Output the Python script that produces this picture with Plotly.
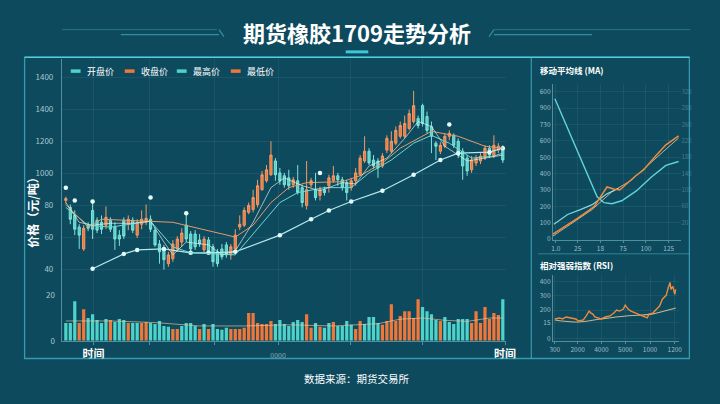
import plotly.graph_objects as go

# ---------------- data ----------------
opens = [83.1,78.8,73.8,66.5,52.9,67.7,76.9,70.8,69.5,67.7,70.8,66.5,61.5,70.8,68.3,70.8,61.5,68.3,69.5,71.4,
         64.6,56.0,52.9,43.7,46.8,52.9,57.2,67.7,62.2,62.2,58.5,52.3,58.5,54.2,51.1,52.9,55.4,49.2,52.9,66.5,
         67.7,75.7,77.5,80.6,89.8,95.4,99.1,107.7,100.3,98.5,97.2,92.9,95.4,91.1,80.0,92.9,89.8,86.2,89.8,92.3,
         95.4,98.5,96.0,94.2,91.1,95.4,99.1,107.7,113.8,108.3,107.7,104.6,114.5,113.8,118.8,123.1,123.1,128.0,132.3,134.2,
         142.2,135.4,129.2,118.8,113.8,116.9,123.1,123.7,120.0,113.8,109.5,102.2,106.5,107.7,109.5,115.7,110.8,114.5,115.7]
highs = [85.5,80.6,76.9,68.3,67.7,69.5,83.1,72.6,73.8,79.4,72.6,69.5,64.6,72.6,73.8,72.6,71.4,76.9,80.6,73.8,
         66.5,58.5,55.4,51.1,58.5,60.9,65.8,75.1,64.0,64.6,62.2,60.9,60.3,56.0,52.9,56.0,57.2,56.0,65.2,73.8,
         78.8,81.8,89.8,96.0,101.5,105.2,120.0,109.5,103.4,100.3,102.2,97.8,105.2,92.9,107.7,97.2,100.3,91.7,91.7,99.1,
         104.6,100.3,97.8,96.0,97.2,103.4,111.4,123.1,115.7,111.4,109.5,112.6,123.7,126.2,129.2,132.3,136.0,139.7,151.4,136.0,
         143.4,138.5,132.3,120.0,119.4,124.9,126.8,124.9,121.8,115.7,111.4,110.8,111.4,112.6,117.5,117.5,123.7,118.8,117.5]
lows = [81.2,68.3,61.5,52.9,51.7,64.0,59.1,62.8,62.2,65.2,63.4,52.3,54.8,59.1,64.6,62.8,59.7,65.2,67.7,63.4,
        54.2,43.7,40.0,41.8,44.9,51.1,54.2,57.2,51.1,52.3,54.2,50.5,49.8,41.8,41.8,46.2,47.4,46.2,51.1,64.6,
        66.5,74.5,75.7,78.8,89.2,94.2,98.5,95.4,92.9,91.1,89.8,91.1,86.8,78.8,77.5,91.1,83.1,83.1,86.2,88.0,
        94.2,92.3,89.2,83.1,89.2,92.3,98.5,106.5,105.2,102.8,97.2,103.4,112.6,112.6,117.5,121.8,121.8,126.8,131.1,128.0,
        129.2,124.9,112.6,108.3,112.0,115.7,120.6,115.7,109.5,96.0,98.5,100.3,104.6,105.8,108.3,109.5,109.5,112.6,106.5]
closes = [84.3,71.4,65.2,61.5,65.8,65.8,65.2,64.6,65.2,72.6,65.2,59.1,59.1,60.9,71.4,64.6,69.5,71.4,72.0,65.2,
          55.4,51.1,46.2,49.2,56.0,59.1,62.8,59.1,52.9,54.2,56.0,59.1,51.1,44.9,43.7,48.0,49.2,54.2,61.5,68.3,
          76.9,80.0,84.9,92.3,99.1,102.2,111.4,99.1,95.4,92.9,92.3,96.0,88.0,81.8,89.8,95.4,84.9,89.8,88.0,97.2,
          98.5,96.0,91.1,88.0,95.4,100.3,109.5,113.8,106.5,104.6,103.4,110.8,121.8,120.0,126.8,129.8,131.1,137.2,142.2,129.8,
          131.1,126.8,123.1,116.9,117.5,123.1,124.9,117.5,111.4,104.6,101.5,108.3,109.5,110.8,115.7,111.4,117.5,116.9,108.3]
days = list(range(len(closes)))

volumes = [7.8,7.8,17.4,7.8,13.9,10.0,11.7,9.1,7.8,9.6,
           9.1,8.3,9.6,9.1,7.8,7.8,7.8,7.8,8.3,7.8,
           7.4,8.7,6.5,6.1,5.2,5.2,6.5,7.8,7.8,6.5,
           5.2,7.4,5.2,7.4,5.2,4.8,5.7,5.2,5.2,5.2,
           5.7,12.2,12.2,7.8,7.4,7.4,8.7,7.4,9.1,7.4,
           6.5,8.3,9.1,8.3,11.7,5.7,7.8,6.1,5.7,7.8,
           8.3,6.5,6.5,8.7,7.0,5.2,8.7,7.4,10.4,10.4,
           7.8,7.0,8.7,16.1,8.7,10.9,13.0,13.0,10.0,18.3,
           14.8,13.0,11.7,9.1,8.7,10.4,8.3,7.4,9.6,9.6,
           9.6,7.8,13.0,7.8,14.8,9.6,12.2,11.3,18.3]
vol_dir = ["d","d","d","u","u","d","d","d","d","d",
           "u","d","d","d","u","d","d","u","u","d",
           "d","d","d","d","u","u","d","d","d","d",
           "u","d","u","d","d","d","d","u","u","u",
           "u","u","u","u","u","u","u","d","d","d",
           "d","d","d","d","u","u","d","u","d","d",
           "u","d","d","d","d","u","u","d","d","d",
           "d","u","u","u","u","u","u","u","u","u",
           "d","d","d","d","u","d","d","d","d","d",
           "d","u","u","u","u","u","u","u","d"]
vol_ma_x = [0,10,20,30,40,50,60,70,75,80,85,90,95,98]
vol_ma_y = [8.7,8.7,8.0,6.5,6.5,7.0,6.5,7.5,9.5,10.0,9.0,8.5,10.0,10.0]

ma5_x = [0,3,6,10,15,19,22,24,27,32,35,38,42,46,49,53,57,62,65,68,72,76,79,82,85,90,94,98]
ma5_y = [81.8,69.5,67.7,68.9,68.9,70.2,57.2,49.2,57.2,55.4,49.2,51.7,69.5,91.1,97.2,92.3,89.2,94.2,93.5,104.6,
         109.5,121.8,132.3,129.2,116.9,107.7,109.5,111.4]
ma10_x = [0,5,8,24,38,42,46,50,54,62,66,71,75,80,82,88,94,98]
ma10_y = [80.6,66.5,71.4,69.5,60.3,67.7,81.8,91.1,94.2,94.8,98.5,106.5,115.7,123.1,126.2,123.1,116.9,115.7]
ma20_x = [0,5,10,19,24,28,38,43,48,52,58,64,68,73,78,82,86,91,96,98]
ma20_y = [78.8,67.7,66.5,70.2,54.2,50.5,49.2,65.2,81.8,88.0,91.1,91.1,100.3,108.3,118.8,123.7,118.8,109.5,110.8,112.6]
ma60_x = [6,13,16,22,28,32,38,48,55,59,64,71,78,84,88,95,98]
ma60_y = [40.6,49.8,52.3,52.9,50.5,50.5,51.1,61.5,71.4,76.9,82.5,89.2,99.1,108.3,112.6,113.2,115.7]
peak_x = [0,2,6,19,27,57,86]
peak_y = [91.1,83.1,82.5,84.9,75.1,100.3,130.5]

time_tick_vals = [6.2,18.7,33.3,47.6,63.9,80.0,98.5]
time_tick_text = ["<b>时间</b>","","","<span style='font-size:7px;color:#8fb3bd'>0000</span>","","","<b>时间</b>"]
price_tick_vals = [40,60,80,100,120,140,160]
price_tick_text = ["40","60","80","1000","1200","1400","1400"]
vol_tick_vals = [0,20]
vol_tick_text = ["0","20"]
right_tick_vals = [160,150.2,140.3,129.8,119.4,109.5,99.1,78.8,59.7,40,23.4,-3.7]
right_tick_text = ["-53.00","+77.50","-10020","+10.00","-10020","-15.00","-1.8.00","-1000","-100","-100","50","0"]

# MA panel (right top)
ma_a_x = [0,19.4,35.6,46.4,54,62.6,73.4,89.5,105.7,121.9,135.9]
ma_a_y = [858,606,390,258,222,216,234,294,378,450,474]
ma_b_x = [-1.1,14,28,41,57.2,70]
ma_b_y = [90,150,180,210,276,310]
ma_c_x = [-2.2,24.8,43.1,57.2,64.7,71.2,89.5,97.1,111.1,121.9,135.9]
ma_c_y = [30,126,198,318,306,300,390,420,510,576,630]
ma_d_x = [-2.2,40.9,62.5,84,105.6,135.9]
ma_d_y = [18,180,288,360,468,618]
ma_ytick_vals = [0,100,200,300,400,500,600,700,800,900]
ma_ytick_text = ["0","100","200","300","400","500","600","730","900","600"]
ma_ytick_text_r = ["","20","60","100","140","180","220","260","280","320"]
ma_xtick_vals = [1,25,50,75,100,125]
ma_xtick_text = ["1.0","25","18","75","100","125"]

# RSI panel (right bottom)
rsi_x = [0,5,8,12,17,22,25,30,33,36,38,40,42,45,49,53,58,62,65,68,72,74,77,80,85,88,93,97,99,103,107,110,113,117,119,121,122,124,126,127]
rsi_y = [138,145,138,152,145,138,124,131,159,193,179,172,152,145,138,152,159,179,200,193,207,234,207,193,179,172,159,145,172,179,207,228,276,303,352,393,345,366,310,345]
rsi_ma_x = [0,25,48,75,102,115,127]
rsi_ma_y = [131,117,138,159,172,193,214]
rsi_ytick_vals = [0,110,200,300,400]
rsi_ytick_text = ["0","15","200","300","400"]
rsi_xtick_vals = [0,24,49,74,100,126]
rsi_xtick_text = ["300","2000","4000","5000","1000","1200"]

# ---------------- styling ----------------
FONT = "Noto Sans CJK SC"
BG = "#0d4a5e"
TEAL = "#4fd3c9"
ORANGE = "#f0773a"
GRID = "rgba(255,255,255,0.06)"
AXIS = "rgba(140,200,212,0.55)"
TICKC = "#a9c6cf"

def P(px):
    return px / 720.0

def Q(py):
    return 1 - py / 404.0

fig = go.Figure()

fig.add_trace(go.Candlestick(
    x=days, open=opens, high=highs, low=lows, close=closes,
    increasing=dict(line=dict(color="#f59a66", width=1), fillcolor=ORANGE),
    decreasing=dict(line=dict(color="#7fe3da", width=1), fillcolor=TEAL),
    showlegend=False, xaxis="x", yaxis="y", hoverinfo="skip"))

fig.add_trace(go.Scatter(x=ma60_x, y=ma60_y, mode="lines+markers", xaxis="x", yaxis="y",
                         line=dict(color="#b4e6ea", width=1.2), marker=dict(size=4.5, color="#e4fafa"),
                         showlegend=False))
fig.add_trace(go.Scatter(x=ma20_x, y=ma20_y, mode="lines", xaxis="x", yaxis="y",
                         line=dict(color="#6fd6cf", width=1), showlegend=False))
fig.add_trace(go.Scatter(x=ma10_x, y=ma10_y, mode="lines", xaxis="x", yaxis="y",
                         line=dict(color="#e59b6c", width=1), showlegend=False))
fig.add_trace(go.Scatter(x=ma5_x, y=ma5_y, mode="lines", xaxis="x", yaxis="y",
                         line=dict(color="rgba(235,240,230,0.75)", width=0.9), showlegend=False))
fig.add_trace(go.Scatter(x=peak_x, y=peak_y, mode="markers", xaxis="x", yaxis="y",
                         marker=dict(size=4.5, color="#e8fbfb"), showlegend=False))

fig.add_trace(go.Bar(x=days, y=volumes, xaxis="x", yaxis="y2", width=0.72,
                     marker=dict(color=[ORANGE if d == "u" else TEAL for d in vol_dir], line=dict(width=0)),
                     showlegend=False))
fig.add_trace(go.Scatter(x=vol_ma_x, y=vol_ma_y, mode="lines", xaxis="x", yaxis="y2",
                         line=dict(color="rgba(240,200,160,0.7)", width=0.9), showlegend=False))

# MA panel
fig.add_trace(go.Scatter(x=ma_b_x, y=ma_b_y, mode="lines", xaxis="x2", yaxis="y4",
                         line=dict(color="#7fd8de", width=1.2), showlegend=False))
fig.add_trace(go.Scatter(x=ma_a_x, y=ma_a_y, mode="lines", xaxis="x2", yaxis="y4",
                         line=dict(color="#62d2dc", width=1.4), showlegend=False))
fig.add_trace(go.Scatter(x=ma_d_x, y=ma_d_y, mode="lines", xaxis="x2", yaxis="y4",
                         line=dict(color="rgba(235,205,160,0.8)", width=1), showlegend=False))
fig.add_trace(go.Scatter(x=ma_c_x, y=ma_c_y, mode="lines", xaxis="x2", yaxis="y4",
                         line=dict(color="#f08a3c", width=1.5), showlegend=False))
fig.add_trace(go.Scatter(x=[None], y=[None], xaxis="x2", yaxis="y5", showlegend=False))

# RSI panel
fig.add_trace(go.Scatter(x=rsi_ma_x, y=rsi_ma_y, mode="lines", xaxis="x3", yaxis="y6",
                         line=dict(color="rgba(235,200,150,0.85)", width=1.1, shape="spline"), showlegend=False))
fig.add_trace(go.Scatter(x=rsi_x, y=rsi_y, mode="lines", xaxis="x3", yaxis="y6",
                         line=dict(color="#f08a3c", width=1.4), showlegend=False))

common_tick = dict(family=FONT, size=8, color=TICKC)

fig.update_layout(
    width=720, height=404, autosize=False,
    margin=dict(l=0, r=0, t=0, b=0),
    paper_bgcolor=BG, plot_bgcolor="rgba(0,0,0,0)",
    font=dict(family=FONT, color="white"),
    bargap=0.2,
    xaxis=dict(domain=[P(60), P(512)], range=[-0.88, 98.66], anchor="y",
               tickvals=time_tick_vals, ticktext=time_tick_text,
               tickfont=dict(family=FONT, size=11, color="white"),
               showgrid=True, gridcolor=GRID, zeroline=False,
               showline=True, linecolor=AXIS, ticks="outside", ticklen=3, tickcolor=AXIS,
               rangeslider=dict(visible=False), fixedrange=True),
    yaxis=dict(domain=[Q(345), Q(60)], range=[-4.3, 171.1], anchor="x",
               tickvals=price_tick_vals, ticktext=price_tick_text, tickfont=common_tick,
               showgrid=True, gridcolor=GRID, zeroline=False,
               showline=True, linecolor=AXIS, ticks="", ticklabelstandoff=6),
    yaxis2=dict(overlaying="y", anchor="x", side="left", range=[0, 123.9],
                tickvals=vol_tick_vals, ticktext=vol_tick_text, tickfont=common_tick,
                showgrid=False, zeroline=False, showline=False, ticklabelstandoff=6),
    yaxis3=dict(overlaying="y", anchor="x", side="right", range=[-4.3, 171.1],
                tickvals=right_tick_vals, ticktext=right_tick_text,
                tickfont=dict(family=FONT, size=6.5, color="#8fb0ba"),
                showgrid=False, zeroline=False, showline=True, linecolor=AXIS,
                ticks="outside", ticklen=4, tickcolor="rgba(140,200,212,0.5)"),
    xaxis2=dict(domain=[P(560), P(690)], range=[-2.2, 138], anchor="y4",
                tickvals=ma_xtick_vals, ticktext=ma_xtick_text,
                tickfont=dict(family=FONT, size=6.5, color="#9fbec7"),
                showgrid=True, gridcolor=GRID, zeroline=False,
                showline=True, linecolor=AXIS, ticks="outside", ticklen=2, tickcolor=AXIS),
    yaxis4=dict(domain=[Q(243), Q(85)], range=[-6, 948], anchor="x2",
                tickvals=ma_ytick_vals, ticktext=ma_ytick_text,
                tickfont=dict(family=FONT, size=6.5, color="#9fbec7"),
                showgrid=True, gridcolor=GRID, zeroline=False,
                showline=True, linecolor=AXIS),
    yaxis5=dict(overlaying="y4", anchor="x2", side="right", range=[-6, 948],
                tickvals=ma_ytick_vals, ticktext=ma_ytick_text_r,
                tickfont=dict(family=FONT, size=6, color="rgba(160,200,210,0.4)"),
                showgrid=False, zeroline=False, showline=False),
    xaxis3=dict(domain=[P(560), P(688)], range=[-2, 130], anchor="y6",
                tickvals=rsi_xtick_vals, ticktext=rsi_xtick_text,
                tickfont=dict(family=FONT, size=6.5, color="#9fbec7"),
                showgrid=True, gridcolor=GRID, zeroline=False,
                showline=True, linecolor=AXIS, ticks="outside", ticklen=2, tickcolor=AXIS),
    yaxis6=dict(domain=[Q(345), Q(278)], range=[-14, 448], anchor="x3",
                tickvals=rsi_ytick_vals, ticktext=rsi_ytick_text,
                tickfont=dict(family=FONT, size=6.5, color="#9fbec7"),
                showgrid=True, gridcolor=GRID, zeroline=False,
                showline=True, linecolor=AXIS),
)

# ---------------- decorations ----------------
shapes = []
FRAME = "rgba(70,180,200,0.75)"
shapes.append(dict(type="rect", xref="paper", yref="paper", x0=P(22), x1=P(699), y0=Q(363), y1=Q(58),
                   line=dict(color=FRAME, width=1.3)))
shapes.append(dict(type="line", xref="paper", yref="paper", x0=P(22), x1=P(699), y0=Q(58), y1=Q(58),
                   line=dict(color="rgba(90,210,225,0.9)", width=1.6)))
shapes.append(dict(type="line", xref="paper", yref="paper", x0=P(538), x1=P(538), y0=Q(363), y1=Q(58),
                   line=dict(color=FRAME, width=1.2)))
shapes.append(dict(type="line", xref="paper", yref="paper", x0=P(545), x1=P(699), y0=Q(257), y1=Q(257),
                   line=dict(color="rgba(70,180,200,0.55)", width=1)))
# title ornaments
OR = "rgba(80,200,220,0.55)"
shapes += [
    dict(type="line", xref="paper", yref="paper", x0=P(60), x1=P(218), y0=Q(30), y1=Q(30), line=dict(color="rgba(80,200,220,0.35)", width=1)),
    dict(type="line", xref="paper", yref="paper", x0=P(120), x1=P(220), y0=Q(35), y1=Q(35), line=dict(color=OR, width=1.2)),
    dict(type="line", xref="paper", yref="paper", x0=P(220), x1=P(225), y0=Q(30), y1=Q(37), line=dict(color=OR, width=1.2)),
    dict(type="line", xref="paper", yref="paper", x0=P(500), x1=P(700), y0=Q(30), y1=Q(30), line=dict(color="rgba(80,200,220,0.35)", width=1)),
    dict(type="line", xref="paper", yref="paper", x0=P(500), x1=P(600), y0=Q(35), y1=Q(35), line=dict(color=OR, width=1.2)),
    dict(type="line", xref="paper", yref="paper", x0=P(495), x1=P(500), y0=Q(37), y1=Q(30), line=dict(color=OR, width=1.2)),
    dict(type="rect", xref="paper", yref="paper", x0=P(349), x1=P(372), y0=Q(54), y1=Q(51),
         fillcolor="#3fc6d8", line=dict(width=0)),
]
# legend symbols
legend_names = ["开盘价", "收盘价", "最高价", "最低价"]
legend_cols = [TEAL, ORANGE, TEAL, ORANGE]
legend_x0 = [69, 124, 177, 232]
annotations = []
for name, col, lx in zip(legend_names, legend_cols, legend_x0):
    shapes.append(dict(type="line", xref="paper", yref="paper", x0=P(lx), x1=P(lx + 10), y0=Q(72), y1=Q(72),
                       line=dict(color=col, width=3.5)))
    annotations.append(dict(xref="paper", yref="paper", x=P(lx + 14), y=Q(72), text=name, showarrow=False,
                            xanchor="left", yanchor="middle", font=dict(family=FONT, size=9, color="white")))

annotations += [
    dict(xref="paper", yref="paper", x=0.5, y=Q(32), text="<b>期货橡胶1709走势分析</b>", showarrow=False,
         xanchor="center", yanchor="middle", font=dict(family=FONT, size=22, color="white")),
    dict(xref="paper", yref="paper", x=0.5, y=Q(383), text="数据来源：期货交易所", showarrow=False,
         xanchor="center", yanchor="middle", font=dict(family=FONT, size=10.5, color="white")),
    dict(xref="paper", yref="paper", x=P(30), y=Q(212), text="<b>价格（元/吨）</b>", showarrow=False,
         textangle=-90, xanchor="center", yanchor="middle", font=dict(family=FONT, size=12, color="white")),
    dict(xref="paper", yref="paper", x=P(545), y=Q(71), text="<b>移动平均线 (MA)</b>", showarrow=False,
         xanchor="left", yanchor="middle", font=dict(family=FONT, size=8.5, color="white")),
    dict(xref="paper", yref="paper", x=P(545), y=Q(268), text="<b>相对强弱指数 (RSI)</b>", showarrow=False,
         xanchor="left", yanchor="middle", font=dict(family=FONT, size=8.5, color="white")),
]

fig.update_layout(shapes=shapes, annotations=annotations)
fig.write_html("out.html",
               config={"displayModeBar": False},
               post_script="document.body.style.margin='0';document.body.style.padding='0';"
                           "document.body.style.overflow='hidden';"
                           "document.body.style.background='" + BG + "';")
